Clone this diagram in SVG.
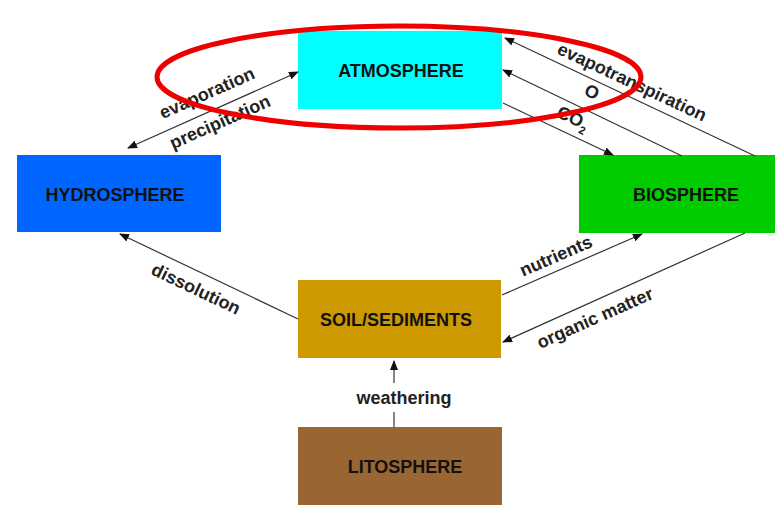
<svg xmlns="http://www.w3.org/2000/svg" width="775" height="505" viewBox="0 0 775 505">
<style>
.node text{font-family:"Liberation Sans",Arial,sans-serif;font-size:18px;font-weight:bold;fill:#111;text-anchor:middle}
.lbl{font-family:"Liberation Sans",Arial,sans-serif;font-size:18px;font-weight:bold;fill:#222;text-anchor:middle}
.conn line{stroke:#333;stroke-width:1.2;fill:none}
</style>
<defs>
<marker id="ah" markerUnits="userSpaceOnUse" markerWidth="10" markerHeight="8" refX="9" refY="4" orient="auto-start-reverse">
<path d="M0,0 L10,4 L0,8 z" fill="#111"/>
</marker>
</defs>
<rect width="775" height="505" fill="#fff"/>
<g id="atmosphere" class="node"><rect x="298" y="31" width="204" height="78" fill="#00FFFF"/><text x="401" y="77">ATMOSPHERE</text></g>
<g id="hydrosphere" class="node"><rect x="17" y="155" width="204" height="77" fill="#0066FF"/><text x="115" y="201">HYDROSPHERE</text></g>
<g id="biosphere" class="node"><rect x="579" y="155" width="196" height="78" fill="#00CC00"/><text x="686" y="201">BIOSPHERE</text></g>
<g id="soil" class="node"><rect x="298" y="280" width="203" height="78" fill="#CC9900"/><text x="396" y="326">SOIL/SEDIMENTS</text></g>
<g id="litosphere" class="node"><rect x="298" y="427" width="204" height="78" fill="#996633"/><text x="405" y="473">LITOSPHERE</text></g>
<g id="connectors" class="conn">
<line x1="128" y1="148" x2="298" y2="72" marker-start="url(#ah)" marker-end="url(#ah)"/>
<line x1="755" y1="156" x2="505" y2="38" marker-end="url(#ah)"/>
<line x1="682" y1="156" x2="503" y2="70" marker-end="url(#ah)"/>
<line x1="503" y1="103" x2="613" y2="155" marker-end="url(#ah)"/>
<line x1="298" y1="319" x2="120" y2="234" marker-end="url(#ah)"/>
<line x1="502" y1="295" x2="642" y2="234" marker-end="url(#ah)"/>
<line x1="745" y1="233" x2="503" y2="342" marker-end="url(#ah)"/>
<line x1="394" y1="383" x2="394" y2="361" marker-end="url(#ah)"/>
<line x1="394" y1="412" x2="394" y2="427"/>
</g>
<g id="labels">
<text class="lbl" transform="translate(207,93) rotate(-24)" y="6">evaporation</text>
<text class="lbl" transform="translate(220,122) rotate(-24)" y="6">precipitation</text>
<text class="lbl" transform="translate(632,82) rotate(25)" y="6">evapotranspiration</text>
<text class="lbl" transform="translate(592,92) rotate(25)" y="6">O</text>
<text class="lbl" transform="translate(573,118) rotate(25)" y="6">CO<tspan font-size="11" dy="5">2</tspan></text>
<text class="lbl" transform="translate(196,289) rotate(25.5)" y="6">dissolution</text>
<text class="lbl" transform="translate(556,256) rotate(-23.5)" y="6">nutrients</text>
<text class="lbl" transform="translate(595,318) rotate(-24)" y="6">organic matter</text>
<text class="lbl" x="404" y="404">weathering</text>
</g>
<ellipse cx="399" cy="77" rx="242" ry="51" fill="none" stroke="#EE0000" stroke-width="5"/>
</svg>
